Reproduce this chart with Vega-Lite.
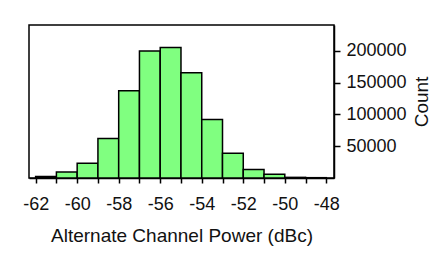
{
  "$schema": "https://vega.github.io/schema/vega-lite/v6.json",
  "width": 305,
  "height": 153,
  "autosize": "none",
  "padding": {"left": 29, "top": 25, "right": 105, "bottom": 79},
  "background": "white",
  "config": {
    "view": {"stroke": "black", "strokeWidth": 1.5},
    "font": "Liberation Sans",
    "axis": {
      "grid": false,
      "domainColor": "black",
      "domainWidth": 1.5,
      "tickColor": "black",
      "tickWidth": 1.5,
      "labelColor": "#111",
      "titleColor": "#111",
      "labelFont": "Liberation Sans",
      "titleFont": "Liberation Sans",
      "labelFontSize": 18,
      "titleFontSize": 19,
      "titleFontWeight": "normal"
    }
  },
  "data": {
    "values": [
      {"lo": -62, "hi": -61, "count": 2500},
      {"lo": -61, "hi": -60, "count": 9500},
      {"lo": -60, "hi": -59, "count": 23000},
      {"lo": -59, "hi": -58, "count": 62000},
      {"lo": -58, "hi": -57, "count": 137000},
      {"lo": -57, "hi": -56, "count": 199500},
      {"lo": -56, "hi": -55, "count": 205000},
      {"lo": -55, "hi": -54, "count": 165500},
      {"lo": -54, "hi": -53, "count": 92000},
      {"lo": -53, "hi": -52, "count": 39000},
      {"lo": -52, "hi": -51, "count": 13500},
      {"lo": -51, "hi": -50, "count": 6000},
      {"lo": -50, "hi": -49, "count": 1000},
      {"lo": -49, "hi": -48, "count": 500}
    ]
  },
  "mark": {"type": "rect", "fill": "#80ff80", "stroke": "black", "strokeWidth": 1.5},
  "encoding": {
    "x": {
      "field": "lo",
      "type": "quantitative",
      "scale": {"domain": [-62.32, -47.63], "nice": false, "zero": false},
      "axis": {
        "title": "Alternate Channel Power (dBc)",
        "values": [-62, -61, -60, -59, -58, -57, -56, -55, -54, -53, -52, -51, -50, -49, -48],
        "labelExpr": "datum.value % 2 == 0 ? '' + datum.value : ''",
        "tickSize": 5,
        "labelPadding": 12,
        "titlePadding": 13,
        "labelFlush": false,
        "labelOverlap": false
      }
    },
    "x2": {"field": "hi"},
    "y": {
      "field": "count",
      "type": "quantitative",
      "scale": {"domain": [0, 240500], "nice": false},
      "axis": {
        "orient": "right",
        "title": "Count",
        "titleAngle": 270,
        "titleBaseline": "top",
        "values": [50000, 100000, 150000, 200000],
        "format": "d",
        "tickSize": 6,
        "labelPadding": 6,
        "titlePadding": 6,
        "labelFlush": false
      }
    },
    "y2": {"datum": 0}
  }
}
